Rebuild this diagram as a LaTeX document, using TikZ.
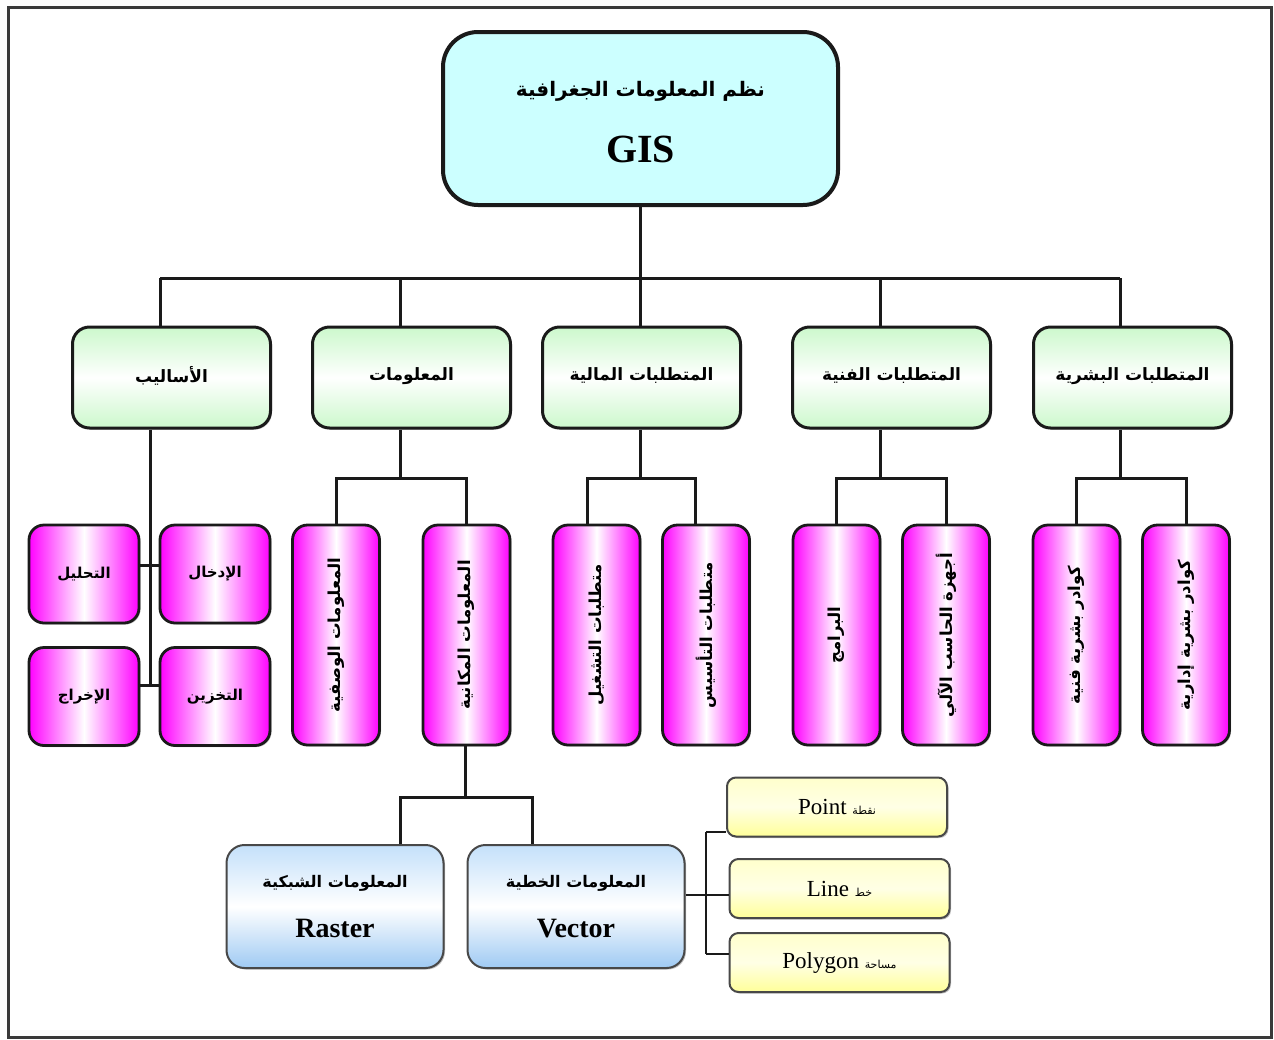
\documentclass[tikz,border=0pt]{standalone}
\usepackage{fontspec}
\setmainfont{Liberation Serif}
\newfontfamily\arabicfont[Script=Arabic]{DejaVu Sans}
\TeXXeTstate=1
\usetikzlibrary{shadows}
\newcommand\artxt[1]{{\arabicfont\beginR #1\endR}}
\newcommand\fsz[1]{\fontsize{#1}{#1}\selectfont}

\definecolor{gisfill}{HTML}{CCFFFF}
\definecolor{greenedge}{HTML}{CCF8CC}
\definecolor{bluetop}{HTML}{C4E0FA}
\definecolor{bluebot}{HTML}{9FCAF3}
\definecolor{yeltop}{HTML}{FFFFCC}
\definecolor{yelbot}{HTML}{FFFF99}
\definecolor{framegray}{HTML}{3A3A3A}
\definecolor{boxline}{HTML}{1A1A1A}

\tikzset{
  boxshadow/.style={drop shadow={shadow xshift=1.5pt,shadow yshift=-1.5pt,opacity=0.25,fill=black}},
  conn/.style={draw=boxline, line width=3pt},
  topbox/.style={draw=boxline, line width=4pt, rounded corners=35pt, fill=gisfill,
    minimum width=395pt, minimum height=173pt, inner sep=0pt},
  toptext/.style={inner sep=0pt, font=\bfseries},
  catbox/.style={draw=boxline, line width=3pt, rounded corners=17pt,
    top color=greenedge, bottom color=greenedge, middle color=white,
    minimum width=198pt, minimum height=101pt, inner sep=0pt, boxshadow, font=\bfseries\fsz{17}},
  pinkbox/.style={draw=boxline, line width=2.8pt, rounded corners=15pt,
    left color=magenta, right color=magenta, middle color=white, inner sep=0pt, boxshadow},
  smallbox/.style={pinkbox, minimum width=110pt, minimum height=98pt, font=\bfseries\fsz{15}},
  tallbox/.style={pinkbox, minimum width=87pt, minimum height=220pt},
  vtext/.style={rotate=90, font=\bfseries\fsz{16.5}, inner sep=0pt},
  bluebox/.style={draw=boxline!80, line width=2pt, rounded corners=18pt,
    top color=bluetop, bottom color=bluebot, middle color=white,
    minimum width=217pt, minimum height=123pt, inner sep=0pt, align=center, boxshadow, font=\bfseries},
  yelbox/.style={draw=boxline!80, line width=2pt, rounded corners=9pt,
    top color=yeltop, bottom color=yelbot, middle color=white!90!yellow,
    minimum width=220pt, minimum height=59pt, inner sep=0pt, boxshadow, font=\fsz{23}}
}

\begin{document}
\begin{tikzpicture}[x=1pt,y=-1pt]
\useasboundingbox (0,0) rectangle (1274,1039);
\fill[white] (0,0) rectangle (1274,1039);
% outer frame
\draw[framegray, line width=3pt] (8,7) rectangle (1271,1037);

% root
\node[topbox] (gis) at (640.5,118.5) {};
\node[toptext, font=\bfseries\fsz{20}] (gisname) at (640.5,91) {\artxt{نظم المعلومات الجغرافية}};
\node[toptext, font=\bfseries\fsz{40}] (gisabbr) at (640.5,149) {GIS};

% second level
\node[catbox] (meth)  at (171.5,377.5)  {\raisebox{6pt}{\artxt{الأساليب}}};
\node[catbox] (info)  at (411.5,377.5)  {\raisebox{6pt}{\artxt{المعلومات}}};
\node[catbox] (fin)   at (641.5,377.5)  {\raisebox{6pt}{\artxt{المتطلبات المالية}}};
\node[catbox] (tech)  at (891.5,377.5)  {\raisebox{6pt}{\artxt{المتطلبات الفنية}}};
\node[catbox] (human) at (1132.5,377.5) {\raisebox{6pt}{\artxt{المتطلبات البشرية}}};

% methods
\node[smallbox] (anal)   at (84,574)    {\artxt{التحليل}};
\node[smallbox] (input)  at (215,574)   {\artxt{الإدخال}};
\node[smallbox] (output) at (84,696.5)  {\artxt{الإخراج}};
\node[smallbox] (store)  at (215,696.5) {\artxt{التخزين}};

% tall boxes
\node[tallbox] (desc)   at (336,635)    {};
\node[tallbox] (spat)   at (466.5,635)  {};
\node[tallbox] (oper)   at (596.5,635)  {};
\node[tallbox] (found)  at (706,635)    {};
\node[tallbox] (prog)   at (836.5,635)  {};
\node[tallbox] (hw)     at (946,635)    {};
\node[tallbox] (tstaff) at (1076.5,635) {};
\node[tallbox] (astaff) at (1186,635)   {};
\node[vtext] at (desc)   {\artxt{المعلومات الوصفية}};
\node[vtext] at (spat)   {\artxt{المعلومات المكانية}};
\node[vtext] at (oper)   {\artxt{متطلبات التشغيل}};
\node[vtext] at (found)  {\artxt{متطلبات التأسيس}};
\node[vtext] at (prog)   {\artxt{البرامج}};
\node[vtext] at (hw)     {\artxt{أجهزة الحاسب الآلي}};
\node[vtext] at (tstaff) {\artxt{كوادر بشرية فنية}};
\node[vtext] at (astaff) {\artxt{كوادر بشرية إدارية}};

% spatial data types
\node[bluebox] (raster) at (335,906.5)
  {\fsz{16}\artxt{المعلومات الشبكية}\\[26pt]{\fsz{28}Raster}};
\node[bluebox] (vector) at (576,906.5)
  {\fsz{16}\artxt{المعلومات الخطية}\\[26pt]{\fsz{28}Vector}};

% vector features
\node[yelbox] (point) at (837,807)     {Point {\fsz{11}\artxt{نقطة}}};
\node[yelbox] (line)  at (839.5,888.5) {Line {\fsz{11}\artxt{خط}}};
\node[yelbox] (poly)  at (839.5,962.5) {Polygon {\fsz{11}\artxt{مساحة}}};

% junction points
\coordinate (bus0) at (640,278);
\coordinate (d1) at (160,278);
\coordinate (d2) at (400,278);
\coordinate (d3) at (640,278);
\coordinate (d4) at (880,278);
\coordinate (d5) at (1120,278);
\coordinate (mv) at (150,685);
\coordinate (ms) at (150,565);
\coordinate (b2) at (400,478);
\coordinate (b3) at (640,478);
\coordinate (b4) at (880,478);
\coordinate (b5) at (1120,478);
\coordinate (c3l) at (587,478);
\coordinate (c3r) at (695,478);
\coordinate (b6) at (465,797);
\coordinate (c6l) at (400,797);
\coordinate (c6r) at (532,797);
\coordinate (vj) at (706,895);
\coordinate (vt) at (706,832);
\coordinate (vb) at (706,954);

% root to second level
\draw[conn] (gis.south -| bus0) -- (bus0);
\draw[conn] (d1) -- (d5);
\draw[conn] (d1) -- (d1 |- meth.north);
\draw[conn] (d2) -- (d2 |- info.north);
\draw[conn] (d3) -- (d3 |- fin.north);
\draw[conn] (d4) -- (d4 |- tech.north);
\draw[conn] (d5) -- (d5 |- human.north);

% methods
\draw[conn] (meth.south -| mv) -- (mv);
\draw[conn] (anal.east |- ms) -- (input.west |- ms);
\draw[conn] (output.east |- mv) -- (store.west |- mv);

% information
\draw[conn] (info.south -| b2) -- (b2);
\draw[conn] (desc.north) |- (b2) -| (spat.north);
% financial
\draw[conn] (fin.south -| b3) -- (b3);
\draw[conn] (c3l |- oper.north) -- (c3l) -- (c3r) -- (c3r |- found.north);
% technical
\draw[conn] (tech.south -| b4) -- (b4);
\draw[conn] (prog.north) |- (b4) -| (hw.north);
% human
\draw[conn] (human.south -| b5) -- (b5);
\draw[conn] (tstaff.north) |- (b5) -| (astaff.north);

% spatial data
\draw[conn] (spat.south -| b6) -- (b6);
\draw[conn] (c6l |- raster.north) -- (c6l) -- (c6r) -- (c6r |- vector.north);

% vector features
\draw[conn, line width=2.2pt] (vector.east |- vj) -- (vj);
\draw[conn, line width=2.2pt] (vt) -- (vb);
\draw[conn, line width=2.2pt] (vt) -- (vt -| point.west);
\draw[conn, line width=2.2pt] (vj) -- (vj -| line.west);
\draw[conn, line width=2.2pt] (vb) -- (vb -| poly.west);
\end{tikzpicture}
\end{document}
